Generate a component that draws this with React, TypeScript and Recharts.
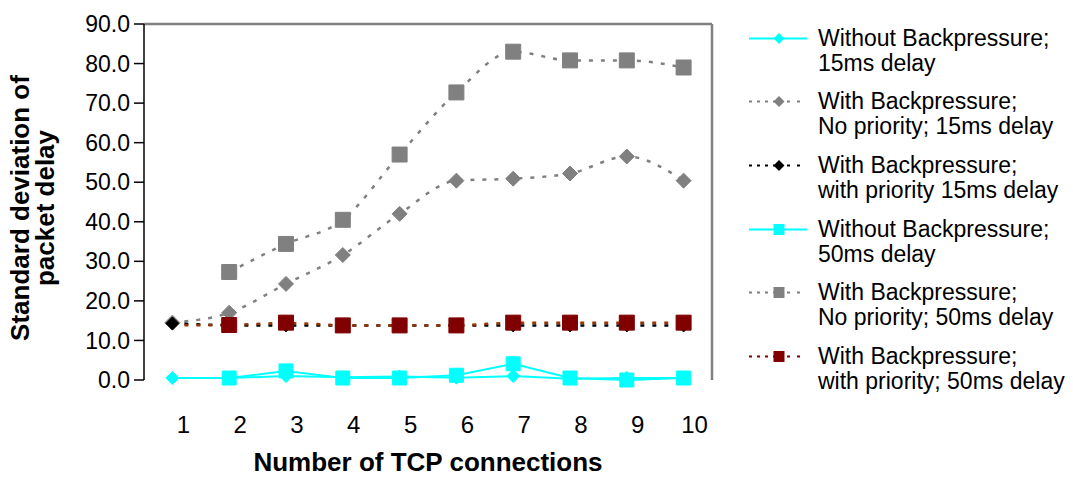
import React from "react";
import {
  LineChart,
  Line,
  XAxis,
  YAxis,
  ReferenceLine,
  Label,
} from "recharts";

// x categories: number of TCP connections
const connections = [1, 2, 3, 4, 5, 6, 7, 8, 9, 10];
const yTicks = [0, 10, 20, 30, 40, 50, 60, 70, 80, 90];

// standard deviation of packet delay per series
const noBp15 = [0.5, 0.5, 1.0, 0.7, 0.9, 0.6, 1.0, 0.3, 0.5, 0.5];
const bpNoPrio15 = [14.5, 17.0, 24.3, 31.6, 42.0, 50.4, 50.9, 52.2, 56.5, 50.4];
const bpPrio15 = [14.3, 13.8, 13.8, 13.8, 13.8, 13.8, 13.8, 13.8, 13.8, 13.8];
const noBp50 = [null, 0.5, 2.3, 0.5, 0.5, 1.2, 4.1, 0.5, 0.0, 0.5];
const bpNoPrio50 = [null, 27.3, 34.4, 40.5, 57.0, 72.7, 83.0, 80.8, 80.8, 79.0];
const bpPrio50 = [13.8, 13.9, 14.5, 13.8, 13.8, 13.8, 14.5, 14.5, 14.5, 14.5];

const FONT = "'Liberation Sans', Arial, sans-serif";

type Shape = "diamond" | "square";

type SeriesDef = {
  key: string;
  name: string[];
  values: (number | null)[];
  line: string;
  marker: string;
  shape: Shape;
  size: number;
  dash?: string;
  curve: "linear" | "monotone";
};

const series: SeriesDef[] = [
  { key: "noBp15", name: ["Without Backpressure;", "15ms delay"], values: noBp15, line: "#00ffff", marker: "#00ffff", shape: "diamond", size: 13, curve: "linear" },
  { key: "bpNoPrio15", name: ["With Backpressure;", "No priority; 15ms delay"], values: bpNoPrio15, line: "#808080", marker: "#808080", shape: "diamond", size: 15, dash: "4 8", curve: "monotone" },
  { key: "bpPrio15", name: ["With Backpressure;", "with priority 15ms delay"], values: bpPrio15, line: "#000000", marker: "#000000", shape: "diamond", size: 13, dash: "4 8", curve: "linear" },
  { key: "noBp50", name: ["Without Backpressure;", "50ms delay"], values: noBp50, line: "#00ffff", marker: "#00ffff", shape: "square", size: 14, curve: "linear" },
  { key: "bpNoPrio50", name: ["With Backpressure;", "No priority; 50ms delay"], values: bpNoPrio50, line: "#808080", marker: "#808080", shape: "square", size: 15, dash: "4 8", curve: "monotone" },
  { key: "bpPrio50", name: ["With Backpressure;", "with priority; 50ms delay"], values: bpPrio50, line: "#993300", marker: "#800000", shape: "square", size: 15, dash: "4 8", curve: "linear" },
];

const data = connections.map((c, i) => {
  const row: Record<string, number | null> = { x: c };
  series.forEach((s) => {
    row[s.key] = s.values[i];
  });
  return row;
});

const halfTicks = [connections[0] - 0.5, ...connections.map((c) => c + 0.5)];

const markerPath = (shape: Shape, cx: number, cy: number, size: number) => {
  const h = size / 2;
  if (shape === "diamond") {
    return `M${cx},${cy - h} L${cx + h},${cy} L${cx},${cy + h} L${cx - h},${cy} Z`;
  }
  return `M${cx - h},${cy - h} h${size} v${size} h${-size} Z`;
};

const makeDot = (s: SeriesDef, skipFirst = false) => (p: any) => {
  if (p.cx == null || p.cy == null || p.value == null || (skipFirst && p.index === 0)) {
    return <g key={`${s.key}-${p.index}`} />;
  }
  return (
    <path
      key={`${s.key}-${p.index}`}
      d={markerPath(s.shape, p.cx, p.cy, s.size)}
      fill={s.marker}
      stroke={s.marker}
      strokeWidth={1}
      strokeLinejoin="round"
    />
  );
};

const YTitle = () => {
  const cy = 208;
  return (
    <g fontFamily={FONT} fontWeight="bold" fontSize={26} fill="#000">
      <text x={29} y={cy} textAnchor="middle" transform={`rotate(-90, 29, ${cy})`}>
        Standard deviation of
      </text>
      <text x={54} y={cy} textAnchor="middle" transform={`rotate(-90, 54, ${cy})`}>
        packet delay
      </text>
    </g>
  );
};

const LegendBox = () => (
  <div style={{ position: "absolute", left: 745, top: 0, fontFamily: FONT, fontSize: 23, color: "#000" }}>
    {series.map((s, i) => {
      const c = s.line === "#993300" ? "#800000" : s.line;
      return (
        <div key={s.key} style={{ position: "absolute", top: 25.5 + i * 63.7, left: 0, width: 325, lineHeight: "25px" }}>
          <svg width={62} height={25} style={{ position: "absolute", left: 2, top: 0 }}>
            {s.dash ? (
              <>
                <line x1={2} x2={30} y1={12.5} y2={12.5} stroke={c} strokeWidth={2} strokeDasharray="3 5" />
                <line x1={40} x2={60} y1={12.5} y2={12.5} stroke={c} strokeWidth={2} strokeDasharray="3 7" />
              </>
            ) : (
              <line x1={2} x2={60} y1={12.5} y2={12.5} stroke={s.line} strokeWidth={2} />
            )}
            <path d={markerPath(s.shape, 32, 12.5, 11)} fill={s.marker} />
          </svg>
          <div style={{ position: "absolute", left: 73, top: 0, whiteSpace: "nowrap" }}>
            <div>{s.name[0]}</div>
            <div>{s.name[1]}</div>
          </div>
        </div>
      );
    })}
  </div>
);

const App = () => {
  return (
    <div style={{ position: "absolute", left: 0, top: 0, width: 1073, height: 478, background: "#fff" }}>
      <LineChart width={1073} height={478} data={data} margin={{ top: 24, right: 361, bottom: 0, left: 0 }}>
        <XAxis
          xAxisId="grid"
          dataKey="x"
          type="number"
          domain={[0.5, 10.5]}
          ticks={halfTicks}
          height={0}
          tickSize={10}
          tickFormatter={() => ""}
          axisLine={{ stroke: "#000", strokeWidth: 1.5 }}
          tickLine={{ stroke: "#000", strokeWidth: 1.5 }}
          interval={0}
        />
        <XAxis
          xAxisId="lab"
          dataKey="x"
          type="number"
          domain={[0.5, 10.5]}
          ticks={connections}
          height={98}
          axisLine={false}
          tickLine={false}
          tickSize={8}
          tickMargin={28}
          interval={0}
          tick={{ fontSize: 24, fill: "#000", fontFamily: FONT, dx: 11 }}
        >
          <Label
            value="Number of TCP connections"
            position="insideBottom"
            offset={7}
            style={{ fontSize: 26, fontWeight: "bold", fill: "#000", fontFamily: FONT }}
          />
        </XAxis>
        <YAxis
          domain={[0, 90]}
          ticks={yTicks}
          width={144}
          tickSize={10}
          tickMargin={4}
          interval={0}
          tickFormatter={(v) => Number(v).toFixed(1)}
          axisLine={{ stroke: "#000", strokeWidth: 1.5 }}
          tickLine={{ stroke: "#000", strokeWidth: 1.5 }}
          tick={{ fontSize: 23, fill: "#000", fontFamily: FONT }}
        >
          <Label content={<YTitle />} />
        </YAxis>
        <ReferenceLine xAxisId="grid" y={90} stroke="#808080" strokeWidth={2.5} />
        <ReferenceLine xAxisId="grid" x={10.5} stroke="#808080" strokeWidth={2.5} />
        {series.map((s) => (
          <Line
            key={s.key}
            xAxisId="grid"
            type={s.curve}
            dataKey={s.key}
            stroke={s.line}
            strokeWidth={s.dash ? 2.5 : 2}
            strokeDasharray={s.dash}
            dot={makeDot(s, s.key === "bpPrio50")}
            activeDot={false}
            connectNulls={false}
            isAnimationActive={false}
          />
        ))}
      </LineChart>
      <LegendBox />
    </div>
  );
};

export default App;
